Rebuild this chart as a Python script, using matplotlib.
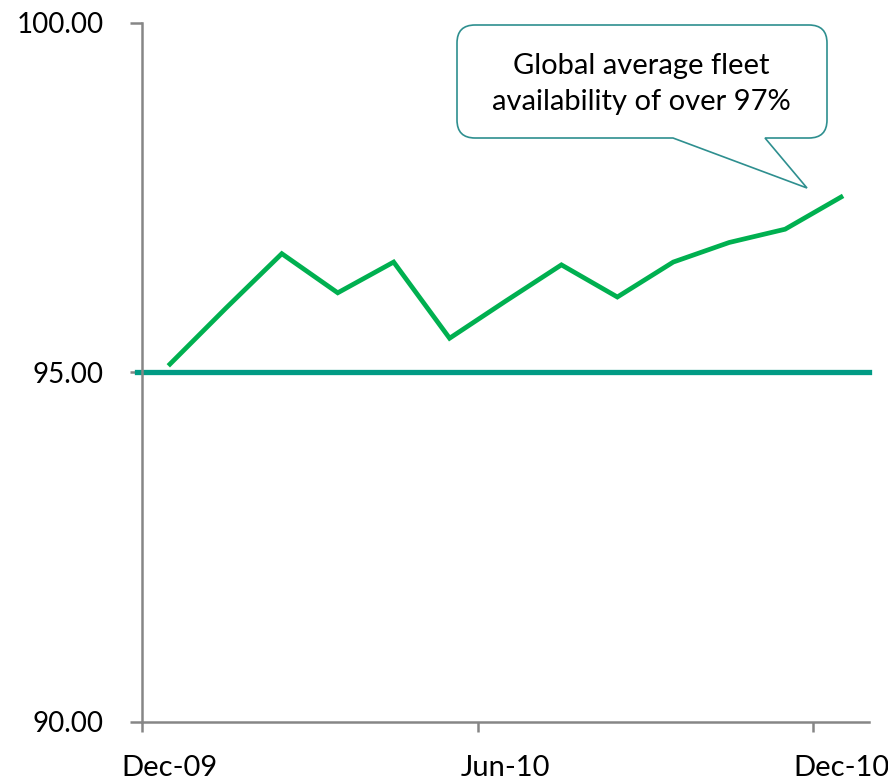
import matplotlib
matplotlib.use("Agg")
import matplotlib.pyplot as plt
from matplotlib.path import Path
from matplotlib.patches import PathPatch

# ---- data ----
months = ["Dec-09", "Jan-10", "Feb-10", "Mar-10", "Apr-10", "May-10", "Jun-10",
          "Jul-10", "Aug-10", "Sep-10", "Oct-10", "Nov-10", "Dec-10"]
availability = [95.12, 95.92, 96.70, 96.14, 96.58, 95.49, 96.02,
                96.54, 96.08, 96.58, 96.86, 97.05, 97.51]
target = 95.0
tick_labels = ["Dec-09", "Jun-10", "Dec-10"]
label_positions = [0, 6, 12]
y_ticks = [90.0, 95.0, 100.0]
callout_text = "Global average fleet\navailability of over 97%"

plt.rcParams['font.family'] = ['Lato', 'DejaVu Sans']

W, H = 888, 784
fig = plt.figure(figsize=(W / 100, H / 100), dpi=100)
ax = fig.add_axes([142 / W, 1 - 722 / H, (869 - 142) / W, (722 - 23) / H])

xs = list(range(len(months)))
ax.axhline(target, color="#009B84", lw=3.8, zorder=2, xmin=-0.007, clip_on=False)
ax.plot(xs, availability, color="#00B050", lw=3.4, zorder=3, solid_joinstyle="miter")

ax.set_xlim(-0.5, len(months) - 0.5)
ax.set_ylim(90, 100)

axis_gray = "#868686"
for s in ["top", "right"]:
    ax.spines[s].set_visible(False)
for s in ["left", "bottom"]:
    ax.spines[s].set_color(axis_gray)
    ax.spines[s].set_linewidth(1.8)

ax.set_yticks(y_ticks)
ax.set_yticklabels([f"{v:.2f}" for v in y_ticks])
ax.tick_params(axis="y", length=8.5, width=1.8, color=axis_gray, labelsize=20, pad=19)

# major ticks between months (boundaries), labels at month centers
ax.set_xticks([p - 0.5 for p in label_positions[1:]] + [-0.5])
ax.set_xticklabels([])
ax.tick_params(axis="x", which="major", length=7, width=1.8, color=axis_gray)
ax.set_xticks(label_positions, minor=True)
ax.set_xticklabels(tick_labels, minor=True)
ax.tick_params(axis="x", which="minor", length=0, labelsize=21, pad=24)

# callout (pixel coords, y down)
L, R, T, B, r = 457, 827, 25, 138, 18
tip = (807, 188)
pts = [(L + r, T), (R - r, T), (R, T), (R, T + r), (R, B - r), (R, B), (R - r, B),
       (765, B), tip, (673, B), (L + r, B), (L, B), (L, B - r), (L, T + r), (L, T),
       (L + r, T), (L + r, T)]
codes = [Path.MOVETO, Path.LINETO, Path.CURVE3, Path.CURVE3, Path.LINETO, Path.CURVE3,
         Path.CURVE3, Path.LINETO, Path.LINETO, Path.LINETO, Path.LINETO, Path.CURVE3,
         Path.CURVE3, Path.LINETO, Path.CURVE3, Path.CURVE3, Path.CLOSEPOLY]
verts = [(x / W, 1 - y / H) for x, y in pts]
patch = PathPatch(Path(verts, codes), facecolor="white", edgecolor="#2E8F8F",
                  lw=1.2, transform=fig.transFigure, zorder=5)
fig.patches.append(patch)
fig.text(641 / W, 1 - 84 / H, callout_text, ha="center", va="center",
         fontsize=21, linespacing=1.45, color="black", zorder=6)

fig.savefig("out.png", dpi=100)
